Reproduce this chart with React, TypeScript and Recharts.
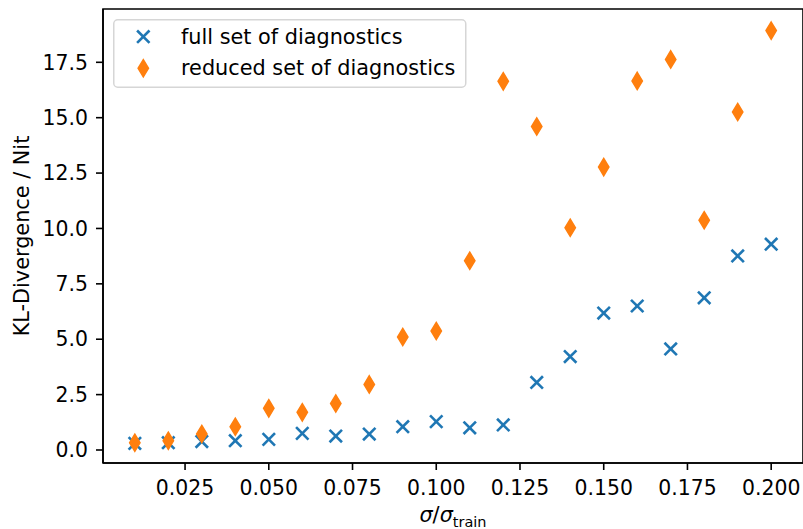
import React from 'react';
import { ScatterChart, Scatter, XAxis, YAxis, Legend, ReferenceArea } from 'recharts';

const sigmaRatio = [0.01, 0.02, 0.03, 0.04, 0.05, 0.06, 0.07, 0.08, 0.09, 0.10, 0.11, 0.12, 0.13, 0.14, 0.15, 0.16, 0.17, 0.18, 0.19, 0.20];
const klFull = [0.30, 0.33, 0.38, 0.42, 0.48, 0.75, 0.63, 0.72, 1.05, 1.28, 1.00, 1.13, 3.05, 4.22, 6.18, 6.50, 4.56, 6.87, 8.76, 9.29];
const klReduced = [0.33, 0.42, 0.72, 1.05, 1.88, 1.70, 2.10, 2.96, 5.10, 5.37, 8.54, 16.64, 14.60, 10.03, 12.77, 16.66, 17.63, 10.37, 15.26, 18.93];
const xTicks = [0.025, 0.05, 0.075, 0.1, 0.125, 0.15, 0.175, 0.2];
const yTicks = [0, 2.5, 5, 7.5, 10, 12.5, 15, 17.5];
const xDomain = [0.0005, 0.2095];
const yDomain = [-0.587, 19.906];
const seriesNames = ['full set of diagnostics', 'reduced set of diagnostics'];

const BLUE = '#1f77b4';
const ORANGE = '#ff7f0e';
const FONT = "'DejaVu Sans', sans-serif";

const fullData = sigmaRatio.map((x, i) => ({ x, y: klFull[i] }));
const reducedData = sigmaRatio.map((x, i) => ({ x, y: klReduced[i] }));

const Cross = (props: any) => {
  const { cx, cy } = props;
  if (cx == null || cy == null) return null;
  const r = 6.2;
  return (
    <g stroke={BLUE} strokeWidth={2.6} strokeLinecap="butt">
      <line x1={cx - r} y1={cy - r} x2={cx + r} y2={cy + r} />
      <line x1={cx - r} y1={cy + r} x2={cx + r} y2={cy - r} />
    </g>
  );
};

const Diamond = (props: any) => {
  const { cx, cy } = props;
  if (cx == null || cy == null) return null;
  const h = 8.6;
  const w = 5.2;
  return (
    <polygon
      points={`${cx},${cy - h} ${cx + w},${cy} ${cx},${cy + h} ${cx - w},${cy}`}
      fill={ORANGE}
      stroke={ORANGE}
      strokeWidth={1.5}
      strokeLinejoin="miter"
    />
  );
};

const LegendBox = (props: any) => {
  const payload = props.payload || [];
  const names = payload.length ? payload.map((p: any) => p.value) : seriesNames;
  return (
    <svg width={354} height={70} style={{ display: 'block' }}>
      <rect x={0.75} y={0.75} width={352} height={67.5} rx={4} ry={4} fill="#ffffff" fillOpacity={0.8} stroke="#d6d6d6" strokeWidth={1.5} />
      <Cross cx={30.3} cy={17.7} />
      <Diamond cx={30.3} cy={49.3} />
      <text x={68} y={24.5} fontFamily={FONT} fontSize={20.8} fill="#000">{names[0]}</text>
      <text x={68} y={55.5} fontFamily={FONT} fontSize={20.8} fill="#000">{names[1]}</text>
    </svg>
  );
};

const XLabel = (props: any) => {
  const vb = props.viewBox || { x: 103, y: 463, width: 700, height: 66 };
  const cx = vb.x + vb.width / 2;
  return (
    <text x={cx} y={vb.y + 58.5} textAnchor="middle" fontFamily={FONT} fontSize={20.8} fill="#000">
      <tspan fontStyle="italic">σ</tspan>
      <tspan>/</tspan>
      <tspan fontStyle="italic">σ</tspan>
      <tspan fontSize={14.5} dy={5}>train</tspan>
    </text>
  );
};

const YLabel = (props: any) => {
  const vb = props.viewBox || { x: 0, y: 9, width: 103, height: 454 };
  const cy = vb.y + vb.height / 2;
  const x = 28.5;
  return (
    <text x={x} y={cy} textAnchor="middle" transform={`rotate(-90, ${x}, ${cy})`} fontFamily={FONT} fontSize={20.8} fill="#000">
      KL-Divergence / Nit
    </text>
  );
};

const tickStyle = { fill: '#000', fontSize: 20.4, fontFamily: FONT };
const lineStyle = { stroke: '#000', strokeWidth: 1.6 };

export default function App() {
  return (
    <div style={{ position: 'absolute', left: 0, top: 0, background: '#fff' }}>
      <ScatterChart width={803} height={529} margin={{ top: 9, right: 0, left: 0, bottom: 0 }}>
        <XAxis
          dataKey="x"
          type="number"
          domain={xDomain}
          allowDataOverflow
          ticks={xTicks}
          tickFormatter={(v: number) => v.toFixed(3)}
          height={66}
          tickSize={7}
          tickMargin={11}
          tick={tickStyle}
          tickLine={lineStyle}
          axisLine={lineStyle}
          interval={0}
          label={XLabel}
        />
        <YAxis
          dataKey="y"
          type="number"
          domain={yDomain}
          allowDataOverflow
          ticks={yTicks}
          tickFormatter={(v: number) => v.toFixed(1)}
          width={103}
          tickSize={7}
          tickMargin={8}
          tick={tickStyle}
          tickLine={lineStyle}
          axisLine={lineStyle}
          interval={0}
          label={YLabel}
        />
        <ReferenceArea
          x1={xDomain[0]}
          x2={xDomain[1]}
          y1={yDomain[0]}
          y2={yDomain[1]}
          fill="none"
          fillOpacity={0}
          stroke="#000"
          strokeWidth={1.6}
          ifOverflow="visible"
        />
        <Scatter name={seriesNames[0]} data={fullData} fill={BLUE} shape={Cross} isAnimationActive={false} />
        <Scatter name={seriesNames[1]} data={reducedData} fill={ORANGE} shape={Diamond} isAnimationActive={false} />
        <Legend
          layout="horizontal"
          verticalAlign="middle"
          align="center"
          content={LegendBox}
          wrapperStyle={{ position: 'absolute', left: 113, top: 19, width: 354, height: 70, margin: 0, padding: 0 }}
        />
      </ScatterChart>
    </div>
  );
}
